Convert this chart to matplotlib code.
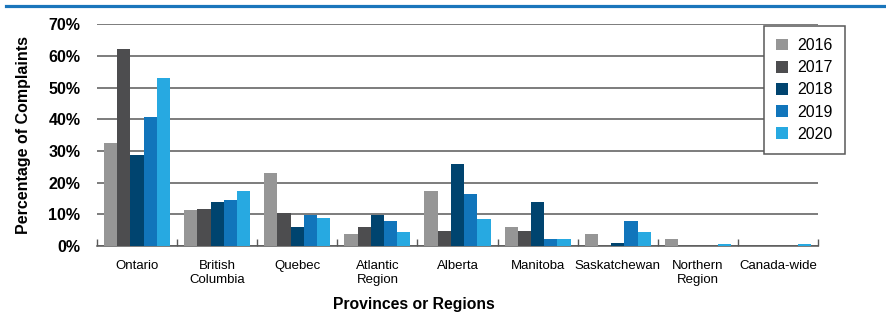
import numpy as np
import matplotlib
matplotlib.use('Agg')
import matplotlib.pyplot as plt
from matplotlib.lines import Line2D

# categories and yearly shares of complaints (%)
regions = ['Ontario', 'British\nColumbia', 'Quebec', 'Atlantic\nRegion', 'Alberta',
           'Manitoba', 'Saskatchewan', 'Northern\nRegion', 'Canada-wide']
years = ['2016', '2017', '2018', '2019', '2020']
pct_2016 = [32.5, 11.3, 23.0, 3.8, 17.3, 6.0, 3.8, 2.2, 0.0]
pct_2017 = [62.1, 11.6, 10.4, 6.0, 4.7, 4.7, 0.0, 0.0, 0.0]
pct_2018 = [28.7, 13.8, 6.0, 9.7, 25.8, 13.8, 0.9, 0.0, 0.0]
pct_2019 = [40.7, 14.5, 9.7, 7.9, 16.4, 2.2, 7.9, 0.0, 0.0]
pct_2020 = [53.0, 17.3, 8.8, 4.4, 8.5, 2.2, 4.4, 0.7, 0.7]
series = [pct_2016, pct_2017, pct_2018, pct_2019, pct_2020]
colors = ['#969696', '#4d4d4f', '#00446f', '#1175bb', '#27a9e1']

plt.rcParams['font.family'] = ['Liberation Sans', 'DejaVu Sans']
grid_col = '#595959'

fig = plt.figure(figsize=(8.87, 3.29), dpi=100)
ax = fig.add_axes([0.1094, 0.2523, 0.8128, 0.6737])

x = np.arange(len(regions))
w = 0.165
for i in range(len(years)):
    vals = np.array(series[i]) / 100.0
    ax.bar(x + (i - 2) * w, vals, width=w, color=colors[i], label=years[i], zorder=3)

ax.set_xlim(-0.5, len(regions) - 0.5)
ax.set_ylim(0, 0.7)
ax.set_yticks(np.arange(0, 0.71, 0.1))
ax.set_yticklabels(['%d%%' % v for v in range(0, 71, 10)], fontsize=11.5, fontweight='bold')
ax.tick_params(axis='y', length=0, pad=12)
ax.yaxis.grid(True, color=grid_col, linewidth=1.1, zorder=0)

ax.set_xticks(x)
ax.set_xticklabels(regions, fontsize=9.5)
ax.tick_params(axis='x', which='major', length=0, pad=10)
ax.set_xticks(np.arange(-0.5, len(regions)), minor=True)
ax.tick_params(axis='x', which='minor', direction='in', length=5, color=grid_col, width=1)

for s in ['top', 'right', 'left']:
    ax.spines[s].set_visible(False)
ax.spines['bottom'].set_color(grid_col)
ax.spines['bottom'].set_linewidth(1.1)

ax.set_ylabel('Percentage of Complaints', fontsize=11.5, fontweight='bold')
ax.yaxis.set_label_coords(-0.092, 0.5)
fig.text(414 / 887, 1 - 305 / 329, 'Provinces or Regions', ha='center', va='center',
         fontsize=11.3, fontweight='bold')

leg = ax.legend(loc='upper left', bbox_to_anchor=(0.925, 0.992), fontsize=11.5,
                handlelength=0.75, handleheight=0.75, handletextpad=0.6,
                labelspacing=0.45, borderpad=0.75, fancybox=False, framealpha=1,
                edgecolor=grid_col, borderaxespad=0)
leg.get_frame().set_linewidth(1.1)
leg.set_zorder(5)

# blue rule across the top
fig.add_artist(Line2D([6 / 887, 1.0], [1 - 6 / 329, 1 - 6 / 329], color='#1a75bb',
                      linewidth=2.3, transform=fig.transFigure))

fig.savefig('out.png', dpi=100)
